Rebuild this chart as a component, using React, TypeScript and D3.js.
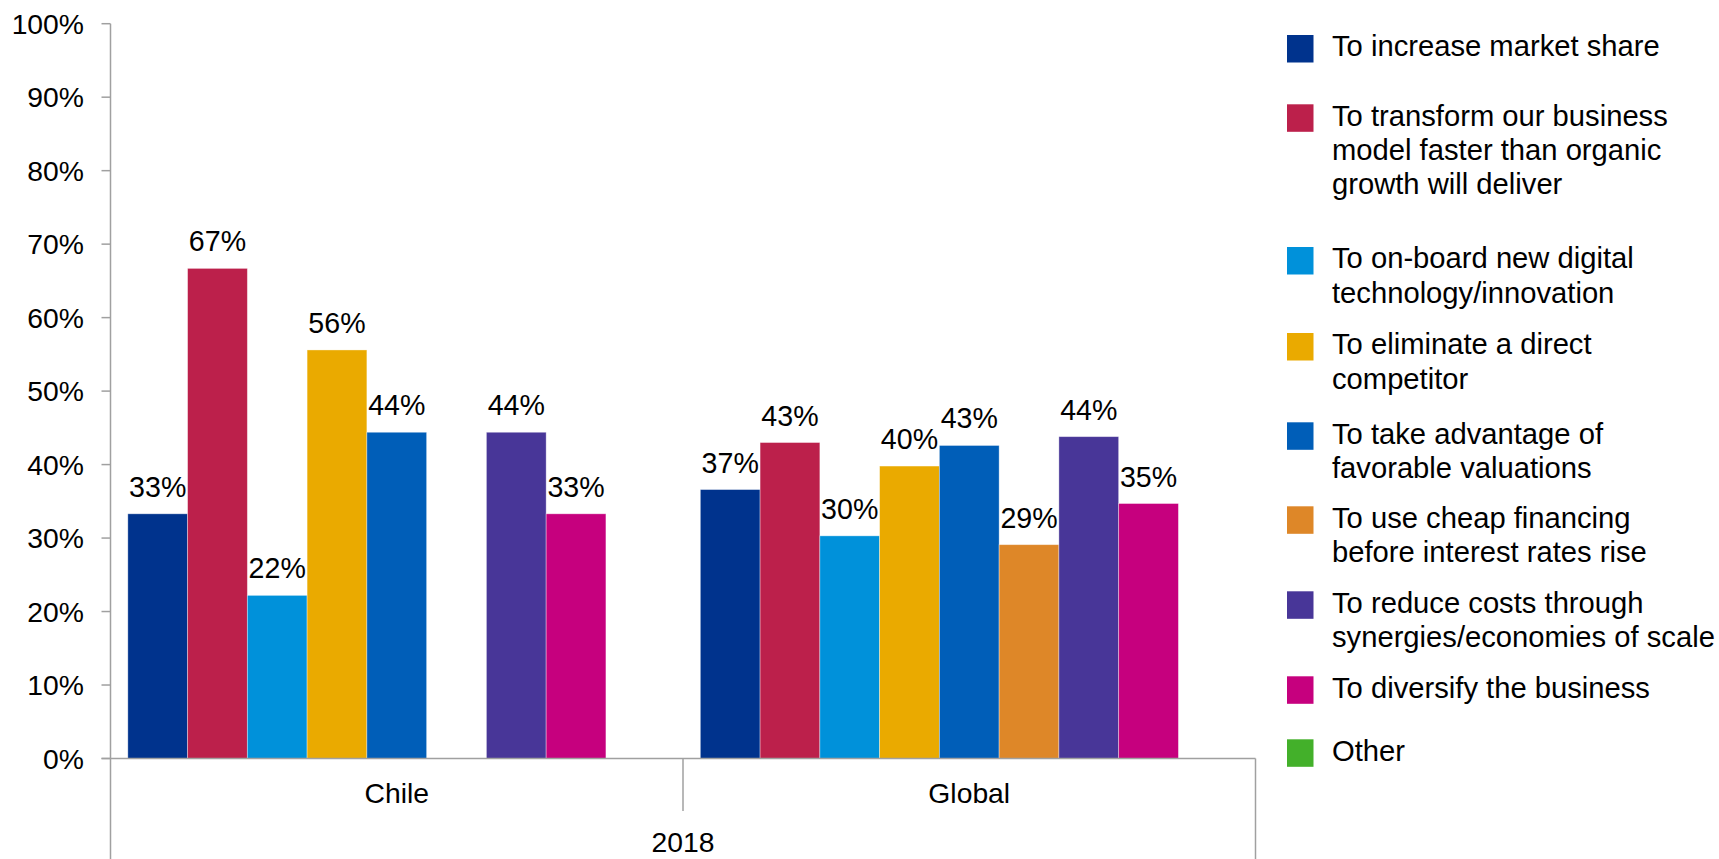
import React from "react";
import * as d3 from "d3";

const categories = ["Chile", "Global"];
const outerCategory = "2018";
const seriesNames = [
  "To increase market share",
  "To transform our business model faster than organic growth will deliver",
  "To on-board new digital technology/innovation",
  "To eliminate a direct competitor",
  "To take advantage of favorable valuations",
  "To use cheap financing before interest rates rise",
  "To reduce costs through synergies/economies of scale",
  "To diversify the business",
  "Other",
];
const legendLines = [
  ["To increase market share"],
  ["To transform our business", "model faster than organic", "growth will deliver"],
  ["To on-board new digital", "technology/innovation"],
  ["To eliminate a direct", "competitor"],
  ["To take advantage of", "favorable valuations"],
  ["To use cheap financing", "before interest rates rise"],
  ["To reduce costs through", "synergies/economies of scale"],
  ["To diversify the business"],
  ["Other"],
];
const seriesColors = [
  "#00338D",
  "#BC204B",
  "#0091DA",
  "#EAAA00",
  "#005EB8",
  "#DE8728",
  "#483698",
  "#C6007E",
  "#43B02A",
];
const chileValues: (number | null)[] = [0.333, 0.667, 0.222, 0.556, 0.444, null, 0.444, 0.333, null];
const globalValues: (number | null)[] = [0.366, 0.43, 0.303, 0.398, 0.426, 0.291, 0.438, 0.347, null];
const yTicks = [0, 0.1, 0.2, 0.3, 0.4, 0.5, 0.6, 0.7, 0.8, 0.9, 1.0];

const valuesByCategory = [chileValues, globalValues];

// layout
const W = 1719;
const H = 859;
const PLOT_LEFT = 110.5;
const PLOT_RIGHT = 1255.5;
const Y0 = 758.5;
const Y100 = 23.7;
const LEGEND_TOPS = [35, 104.3, 247, 333, 422.3, 506.3, 591.3, 676.3, 739.3];
const FONT = "'Liberation Sans', Arial, Helvetica, sans-serif";

export default function App() {
  const x0 = d3.scaleBand<string>().domain(categories).range([PLOT_LEFT, PLOT_RIGHT]).padding(0);
  const x1 = d3
    .scaleBand<string>()
    .domain(seriesNames)
    .range([0, x0.bandwidth()])
    .paddingInner(0)
    .paddingOuter(0.29);
  const y = d3.scaleLinear().domain([0, 1]).range([Y0, Y100]);
  const fmt = d3.format(".0%");
  const axisColor = "#A0A0A0";

  return (
    <svg
      width={W}
      height={H}
      style={{ position: "absolute", left: 0, top: 0, display: "block", background: "#fff" }}
      fontFamily={FONT}
    >
      {/* y axis */}
      <line x1={PLOT_LEFT} x2={PLOT_LEFT} y1={y(1)} y2={H} stroke={axisColor} strokeWidth={1.5} />
      {yTicks.map((t) => (
        <g key={t}>
          <line x1={PLOT_LEFT - 9} x2={PLOT_LEFT} y1={y(t)} y2={y(t)} stroke={axisColor} strokeWidth={1.5} />
          <text x={84} y={y(t)} dy="0.36em" textAnchor="end" fontSize={28.3} fill="#000">
            {fmt(t)}
          </text>
        </g>
      ))}

      {/* bars */}
      {categories.map((c, ci) => (
        <g key={c} transform={`translate(${x0(c)},0)`}>
          {seriesNames.map((s, si) => {
            const v = valuesByCategory[ci][si];
            if (v == null) return null;
            const bx = x1(s)!;
            return (
              <g key={s}>
                <rect
                  x={bx}
                  y={y(v)}
                  width={x1.bandwidth()}
                  height={y(0) - y(v)}
                  fill={seriesColors[si]}
                  stroke="#ffffff"
                  strokeOpacity={0.45}
                  strokeWidth={0.8}
                />
                <text
                  x={bx + x1.bandwidth() / 2}
                  y={y(v) - 17}
                  textAnchor="middle"
                  fontSize={28.6}
                  fill="#000"
                >
                  {fmt(v)}
                </text>
              </g>
            );
          })}
        </g>
      ))}

      {/* x axis */}
      <line x1={PLOT_LEFT - 9} x2={PLOT_RIGHT} y1={y(0)} y2={y(0)} stroke={axisColor} strokeWidth={1.5} />
      <line x1={PLOT_RIGHT} x2={PLOT_RIGHT} y1={y(0)} y2={H} stroke={axisColor} strokeWidth={1.5} />
      {categories.slice(1).map((c) => (
        <line key={c} x1={x0(c)} x2={x0(c)} y1={y(0)} y2={811} stroke={axisColor} strokeWidth={1.5} />
      ))}
      {categories.map((c) => (
        <text key={c} x={x0(c)! + x0.bandwidth() / 2} y={802.5} textAnchor="middle" fontSize={28.3} fill="#000">
          {c}
        </text>
      ))}
      <text x={(PLOT_LEFT + PLOT_RIGHT) / 2} y={852} textAnchor="middle" fontSize={28.3} fill="#000">
        {outerCategory}
      </text>

      {/* legend */}
      {seriesNames.map((s, si) => (
        <g key={s} transform={`translate(1287,${LEGEND_TOPS[si]})`}>
          <rect x={0} y={0} width={26.5} height={27.5} fill={seriesColors[si]} />
          <text x={45} y={21.3} fontSize={29.2} fill="#000">
            {legendLines[si].map((ln, li) => (
              <tspan key={li} x={45} dy={li === 0 ? 0 : 34.4}>
                {ln}
              </tspan>
            ))}
          </text>
        </g>
      ))}
    </svg>
  );
}
